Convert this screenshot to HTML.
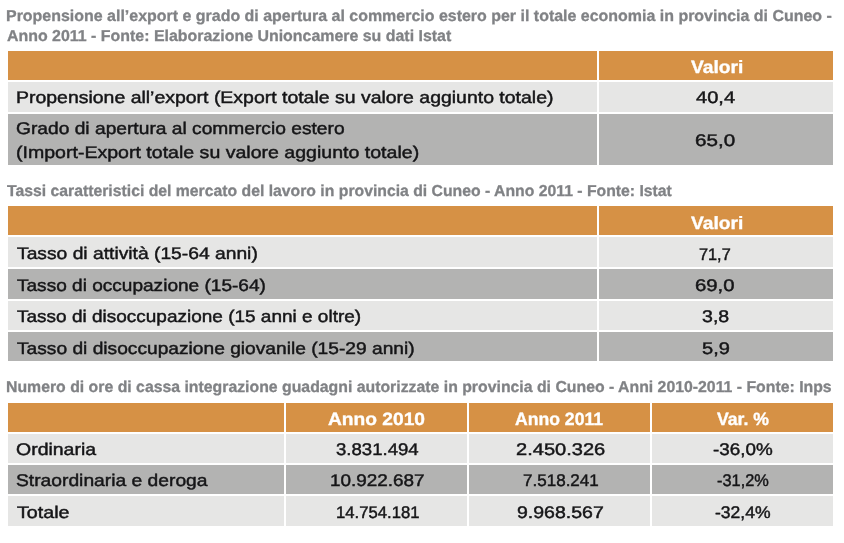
<!DOCTYPE html>
<html lang="it"><head><meta charset="utf-8"><title>Cuneo - indicatori economici 2011</title>
<style>
html,body{margin:0;padding:0;background:#fff}
body{width:844px;height:543px;position:relative;overflow:hidden;font-family:"Liberation Sans",Arial,sans-serif}
.c{position:absolute}
.t{text-rendering:geometricPrecision;position:absolute;white-space:nowrap;transform-origin:0 0;line-height:1;margin:0}
</style></head><body>
<div class="c" style="left:7.8px;top:50.5px;width:589.0px;height:29.5px;background:#d69145"></div>
<div class="c" style="left:598.9px;top:50.5px;width:233.9px;height:29.5px;background:#d69145"></div>
<div class="c" style="left:7.8px;top:82px;width:589.0px;height:29.5px;background:#e6e6e5"></div>
<div class="c" style="left:598.9px;top:82px;width:233.9px;height:29.5px;background:#e6e6e5"></div>
<div class="c" style="left:7.8px;top:113.5px;width:589.0px;height:51.5px;background:#b3b3b2"></div>
<div class="c" style="left:598.9px;top:113.5px;width:233.9px;height:51.5px;background:#b3b3b2"></div>
<div class="c" style="left:7.8px;top:206px;width:589.0px;height:29.3px;background:#d69145"></div>
<div class="c" style="left:598.9px;top:206px;width:233.9px;height:29.3px;background:#d69145"></div>
<div class="c" style="left:7.8px;top:237.3px;width:589.0px;height:29.7px;background:#e6e6e5"></div>
<div class="c" style="left:598.9px;top:237.3px;width:233.9px;height:29.7px;background:#e6e6e5"></div>
<div class="c" style="left:7.8px;top:269px;width:589.0px;height:29.6px;background:#b3b3b2"></div>
<div class="c" style="left:598.9px;top:269px;width:233.9px;height:29.6px;background:#b3b3b2"></div>
<div class="c" style="left:7.8px;top:300.6px;width:589.0px;height:29.1px;background:#e6e6e5"></div>
<div class="c" style="left:598.9px;top:300.6px;width:233.9px;height:29.1px;background:#e6e6e5"></div>
<div class="c" style="left:7.8px;top:331.7px;width:589.0px;height:29.8px;background:#b3b3b2"></div>
<div class="c" style="left:598.9px;top:331.7px;width:233.9px;height:29.8px;background:#b3b3b2"></div>
<div class="c" style="left:7.8px;top:402.8px;width:276.0px;height:28.8px;background:#d69145"></div>
<div class="c" style="left:285.9px;top:402.8px;width:180.9px;height:28.8px;background:#d69145"></div>
<div class="c" style="left:468.9px;top:402.8px;width:181.0px;height:28.8px;background:#d69145"></div>
<div class="c" style="left:652px;top:402.8px;width:180.8px;height:28.8px;background:#d69145"></div>
<div class="c" style="left:7.8px;top:433.6px;width:276.0px;height:29.4px;background:#e6e6e5"></div>
<div class="c" style="left:285.9px;top:433.6px;width:180.9px;height:29.4px;background:#e6e6e5"></div>
<div class="c" style="left:468.9px;top:433.6px;width:181.0px;height:29.4px;background:#e6e6e5"></div>
<div class="c" style="left:652px;top:433.6px;width:180.8px;height:29.4px;background:#e6e6e5"></div>
<div class="c" style="left:7.8px;top:465px;width:276.0px;height:29.4px;background:#b3b3b2"></div>
<div class="c" style="left:285.9px;top:465px;width:180.9px;height:29.4px;background:#b3b3b2"></div>
<div class="c" style="left:468.9px;top:465px;width:181.0px;height:29.4px;background:#b3b3b2"></div>
<div class="c" style="left:652px;top:465px;width:180.8px;height:29.4px;background:#b3b3b2"></div>
<div class="c" style="left:7.8px;top:496.4px;width:276.0px;height:29.5px;background:#e6e6e5"></div>
<div class="c" style="left:285.9px;top:496.4px;width:180.9px;height:29.5px;background:#e6e6e5"></div>
<div class="c" style="left:468.9px;top:496.4px;width:181.0px;height:29.5px;background:#e6e6e5"></div>
<div class="c" style="left:652px;top:496.4px;width:180.8px;height:29.5px;background:#e6e6e5"></div>
<div class="t" style="left:6.08px;top:9px;font-size:15.8px;font-weight:700;color:#808285;-webkit-text-stroke:0.3px #808285;transform:scaleX(1.0105)">Propensione all’export e grado di apertura al commercio estero per il totale economia in provincia di Cuneo -</div>
<div class="t" style="left:7.20px;top:29px;font-size:15.8px;font-weight:700;color:#808285;-webkit-text-stroke:0.3px #808285;transform:scaleX(1.0082)">Anno 2011 - Fonte: Elaborazione Unioncamere su dati Istat</div>
<div class="t" style="left:6.80px;top:184px;font-size:15.8px;font-weight:700;color:#808285;-webkit-text-stroke:0.3px #808285;transform:scaleX(0.9979)">Tassi caratteristici del mercato del lavoro in provincia di Cuneo - Anno 2011 - Fonte: Istat</div>
<div class="t" style="left:6.08px;top:380px;font-size:15.8px;font-weight:700;color:#808285;-webkit-text-stroke:0.3px #808285;transform:scaleX(1.0014)">Numero di ore di cassa integrazione guadagni autorizzate in provincia di Cuneo - Anni 2010-2011 - Fonte: Inps</div>
<div class="t" style="left:16.14px;top:90px;font-size:16.9px;font-weight:400;color:#151517;-webkit-text-stroke:0.45px #151517;transform:scaleX(1.1517)">Propensione all’export (Export totale su valore aggiunto totale)</div>
<div class="t" style="left:16.14px;top:121px;font-size:16.9px;font-weight:400;color:#151517;-webkit-text-stroke:0.45px #151517;transform:scaleX(1.1364)">Grado di apertura al commercio estero</div>
<div class="t" style="left:16.14px;top:145px;font-size:16.9px;font-weight:400;color:#151517;-webkit-text-stroke:0.45px #151517;transform:scaleX(1.1574)">(Import-Export totale su valore aggiunto totale)</div>
<div class="t" style="left:696.20px;top:90px;font-size:16.9px;font-weight:400;color:#151517;-webkit-text-stroke:0.45px #151517;transform:scaleX(1.1899)">40,4</div>
<div class="t" style="left:695.08px;top:133px;font-size:16.9px;font-weight:400;color:#151517;-webkit-text-stroke:0.45px #151517;transform:scaleX(1.2194)">65,0</div>
<div class="t" style="left:16.80px;top:246px;font-size:16.9px;font-weight:400;color:#151517;-webkit-text-stroke:0.45px #151517;transform:scaleX(1.1399)">Tasso di attività (15-64 anni)</div>
<div class="t" style="left:16.80px;top:278px;font-size:16.9px;font-weight:400;color:#151517;-webkit-text-stroke:0.45px #151517;transform:scaleX(1.1280)">Tasso di occupazione (15-64)</div>
<div class="t" style="left:16.80px;top:309px;font-size:16.9px;font-weight:400;color:#151517;-webkit-text-stroke:0.45px #151517;transform:scaleX(1.1243)">Tasso di disoccupazione (15 anni e oltre)</div>
<div class="t" style="left:16.80px;top:341px;font-size:16.9px;font-weight:400;color:#151517;-webkit-text-stroke:0.45px #151517;transform:scaleX(1.1353)">Tasso di disoccupazione giovanile (15-29 anni)</div>
<div class="t" style="left:699.14px;top:247px;font-size:16.9px;font-weight:400;color:#151517;-webkit-text-stroke:0.45px #151517;transform:scaleX(0.9643)">71,7</div>
<div class="t" style="left:694.62px;top:278px;font-size:16.9px;font-weight:400;color:#151517;-webkit-text-stroke:0.45px #151517;transform:scaleX(1.2014)">69,0</div>
<div class="t" style="left:701.62px;top:309px;font-size:16.9px;font-weight:400;color:#151517;-webkit-text-stroke:0.45px #151517;transform:scaleX(1.1577)">3,8</div>
<div class="t" style="left:701.62px;top:341px;font-size:16.9px;font-weight:400;color:#151517;-webkit-text-stroke:0.45px #151517;transform:scaleX(1.1866)">5,9</div>
<div class="t" style="left:15.62px;top:442px;font-size:16.9px;font-weight:400;color:#151517;-webkit-text-stroke:0.45px #151517;transform:scaleX(1.1528)">Ordinaria</div>
<div class="t" style="left:15.62px;top:473px;font-size:16.9px;font-weight:400;color:#151517;-webkit-text-stroke:0.45px #151517;transform:scaleX(1.1393)">Straordinaria e deroga</div>
<div class="t" style="left:16.60px;top:505px;font-size:16.9px;font-weight:400;color:#151517;-webkit-text-stroke:0.45px #151517;transform:scaleX(1.1661)">Totale</div>
<div class="t" style="left:336.08px;top:442px;font-size:16.9px;font-weight:400;color:#151517;-webkit-text-stroke:0.45px #151517;transform:scaleX(1.1000)">3.831.494</div>
<div class="t" style="left:330.08px;top:473px;font-size:16.9px;font-weight:400;color:#151517;-webkit-text-stroke:0.45px #151517;transform:scaleX(1.1195)">10.922.687</div>
<div class="t" style="left:336.08px;top:505px;font-size:16.9px;font-weight:400;color:#151517;-webkit-text-stroke:0.45px #151517;transform:scaleX(0.9877)">14.754.181</div>
<div class="t" style="left:515.79px;top:442px;font-size:16.9px;font-weight:400;color:#151517;-webkit-text-stroke:0.45px #151517;transform:scaleX(1.1874)">2.450.326</div>
<div class="t" style="left:523.13px;top:473px;font-size:16.9px;font-weight:400;color:#151517;-webkit-text-stroke:0.45px #151517;transform:scaleX(1.0088)">7.518.241</div>
<div class="t" style="left:517.13px;top:505px;font-size:16.9px;font-weight:400;color:#151517;-webkit-text-stroke:0.45px #151517;transform:scaleX(1.1542)">9.968.567</div>
<div class="t" style="left:712.90px;top:442px;font-size:16.9px;font-weight:400;color:#151517;-webkit-text-stroke:0.45px #151517;transform:scaleX(1.1146)">-36,0%</div>
<div class="t" style="left:717.00px;top:473px;font-size:16.9px;font-weight:400;color:#151517;-webkit-text-stroke:0.45px #151517;transform:scaleX(0.9679)">-31,2%</div>
<div class="t" style="left:714.60px;top:505px;font-size:16.9px;font-weight:400;color:#151517;-webkit-text-stroke:0.45px #151517;transform:scaleX(1.0378)">-32,4%</div>
<div class="t" style="left:690.50px;top:59px;font-size:17.8px;font-weight:700;color:#fff;-webkit-text-stroke:0.35px #fff;transform:scaleX(1.0822)">Valori</div>
<div class="t" style="left:690.50px;top:215px;font-size:17.8px;font-weight:700;color:#fff;-webkit-text-stroke:0.35px #fff;transform:scaleX(1.0822)">Valori</div>
<div class="t" style="left:328.30px;top:411px;font-size:17.8px;font-weight:700;color:#fff;-webkit-text-stroke:0.35px #fff;transform:scaleX(1.0788)">Anno 2010</div>
<div class="t" style="left:514.80px;top:411px;font-size:17.8px;font-weight:700;color:#fff;-webkit-text-stroke:0.35px #fff;transform:scaleX(0.9900)">Anno 2011</div>
<div class="t" style="left:716.50px;top:411px;font-size:17.8px;font-weight:700;color:#fff;-webkit-text-stroke:0.35px #fff;transform:scaleX(0.9925)">Var. %</div>
</body></html>
